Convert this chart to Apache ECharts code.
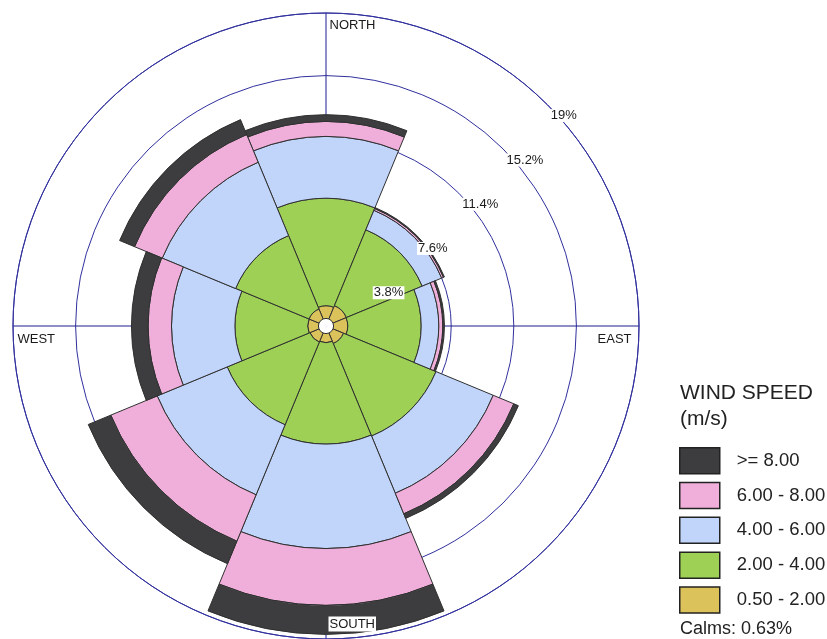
<!DOCTYPE html>
<html>
<head>
<meta charset="utf-8">
<script src="https://cdn.jsdelivr.net/npm/echarts@6/dist/echarts.min.js"></script>
<style>
  html, body { margin: 0; padding: 0; background: #fff; }
  #windRose { width: 827px; height: 639px; }
</style>
</head>
<body>
<div id="windRose"></div>
<script>
// wind directions, clockwise from north
var directions = ["N", "NE", "E", "SE", "S", "SW", "W", "NW"];

// frequency (%) of each speed class per direction
var calmHole = [0.46, 0.46, 0.46, 0.46, 0.46, 0.46, 0.46, 0.46];
var speed0to2 = [0.77, 0.88, 0.86, 0.69, 0.55, 0.60, 0.65, 0.66];
var speed2to4 = [6.53, 4.98, 4.46, 6.08, 6.16, 5.43, 4.42, 4.82];
var speed4to6 = [3.75, 1.28, 1.07, 3.76, 6.34, 4.60, 3.85, 4.82];
var speed6to8 = [0.91, 0.12, 0.24, 1.35, 3.45, 3.05, 1.42, 1.82];
var speed8up = [0.41, 0.06, 0.10, 0.30, 1.76, 1.48, 1.01, 0.98];

var speedNames = ["0.50 - 2.00", "2.00 - 4.00", "4.00 - 6.00", "6.00 - 8.00", ">= 8.00"];
var speedColors = ["#dcc25b", "#9dd054", "#c1d5fb", "#f0afda", "#3d3d3f"];

// radius rings
var ringValues = [3.8, 7.6, 11.4, 15.2, 19];
var ringLabels = ["3.8%", "7.6%", "11.4%", "15.2%", "19%"];

// compass labels
var compassNames = ["NORTH", "EAST", "SOUTH", "WEST"];
var compassAngles = [0, 90, 180, 270];

var calmsText = "Calms: 0.63%";

var FONT = "Liberation Sans, Arial, sans-serif";
var GRID_BLUE = "#30309e";

var dom = document.getElementById("windRose");
var myChart = echarts.init(dom, null, { renderer: "canvas" });

function barSeries(name, values, color) {
  return {
    name: name,
    type: "bar",
    coordinateSystem: "polar",
    polarIndex: 1,
    stack: "rose",
    barCategoryGap: "0%",
    data: values,
    itemStyle: {
      color: color,
      borderColor: "#303030",
      borderWidth: 1
    },
    emphasis: { disabled: true }
  };
}

var series = [];

// white centre hole
series.push({
  name: "calm",
  type: "bar",
  coordinateSystem: "polar",
  polarIndex: 1,
  stack: "rose",
  barCategoryGap: "0%",
  data: calmHole,
  itemStyle: { color: "#fff", borderColor: "#fff", borderWidth: 0.5 },
  emphasis: { disabled: true }
});

var speedSets = [speed0to2, speed2to4, speed4to6, speed6to8, speed8up];
for (var i = 0; i < speedSets.length; i++) {
  series.push(barSeries(speedNames[i], speedSets[i], speedColors[i]));
}

// ring value labels along the NE diagonal
var ringData = [];
for (var j = 0; j < ringValues.length; j++) {
  ringData.push({ value: [ringValues[j], 45], name: ringLabels[j] });
}
series.push({
  type: "scatter",
  coordinateSystem: "polar",
  polarIndex: 0,
  symbolSize: 1,
  itemStyle: { color: "rgba(0,0,0,0)", opacity: 1 },
  z: 10,
  data: ringData,
  label: {
    show: true,
    position: [3, 5],
    formatter: "{b}",
    fontFamily: FONT,
    fontSize: 13,
    color: "#1a1a1a",
    backgroundColor: "#fff",
    padding: [0, 1]
  },
  silent: true
});

// compass names
var compassPos = [[3, 5], [-6, 6], [3, -22], [4, 6]];
var compassAlign = ["left", "right", "left", "left"];
var compassData = [];
for (var k = 0; k < compassNames.length; k++) {
  compassData.push({
    value: [19, compassAngles[k]],
    name: compassNames[k],
    label: {
      position: compassPos[k],
      align: compassAlign[k],
      backgroundColor: compassNames[k] === "SOUTH" ? "#fff" : null
    }
  });
}
series.push({
  type: "scatter",
  coordinateSystem: "polar",
  polarIndex: 0,
  symbolSize: 1,
  itemStyle: { color: "rgba(0,0,0,0)", opacity: 1 },
  z: 10,
  data: compassData,
  label: {
    show: true,
    formatter: "{b}",
    fontFamily: FONT,
    fontSize: 13,
    color: "#1a1a1a",
    padding: [1, 1]
  },
  silent: true
});

var option = {
  animation: false,
  backgroundColor: "#fff",
  title: [
    {
      text: "WIND SPEED\n(m/s)",
      left: 680,
      top: 380,
      padding: 0,
      textStyle: {
        fontFamily: FONT,
        fontSize: 21,
        fontWeight: "normal",
        color: "#222",
        lineHeight: 26
      }
    },
    {
      text: calmsText,
      left: 680,
      top: 620,
      padding: 0,
      textStyle: {
        fontFamily: FONT,
        fontSize: 18,
        fontWeight: "normal",
        color: "#222"
      }
    }
  ],
  legend: {
    orient: "vertical",
    left: 679,
    top: 447,
    padding: 0,
    itemWidth: 40,
    itemHeight: 26,
    itemGap: 7.3,
    icon: "rect",
    selectedMode: false,
    data: speedNames.slice().reverse(),
    itemStyle: { borderColor: "#222", borderWidth: 1.5 },
    textStyle: {
      fontFamily: FONT,
      fontSize: 18.5,
      color: "#222",
      padding: [0, 0, 0, 12]
    }
  },
  polar: [
    { center: [326, 326], radius: 313 },
    { center: [326, 326], radius: 313 }
  ],
  angleAxis: [
    {
      polarIndex: 0,
      type: "value",
      min: 0,
      max: 360,
      interval: 90,
      startAngle: 90,
      axisLine: { show: true, lineStyle: { color: GRID_BLUE, width: 1 } },
      axisTick: { show: false },
      axisLabel: { show: false },
      splitLine: { show: true, lineStyle: { color: "#1e1e8e", width: 1 } }
    },
    {
      polarIndex: 1,
      type: "category",
      data: directions,
      startAngle: 112.5,
      axisLine: { show: false },
      axisTick: { show: false },
      axisLabel: { show: false },
      splitLine: { show: false }
    }
  ],
  radiusAxis: [
    {
      polarIndex: 0,
      type: "value",
      min: 0,
      max: 19,
      interval: 3.8,
      axisLine: { show: false },
      axisTick: { show: false },
      axisLabel: { show: false },
      splitLine: { show: true, lineStyle: { color: GRID_BLUE, width: 1 } }
    },
    {
      polarIndex: 1,
      type: "value",
      min: 0,
      max: 19,
      axisLine: { show: false },
      axisTick: { show: false },
      axisLabel: { show: false },
      splitLine: { show: false }
    }
  ],
  series: series
};

if (option && typeof option === "object") {
  myChart.setOption(option);
}
</script>
</body>
</html>
